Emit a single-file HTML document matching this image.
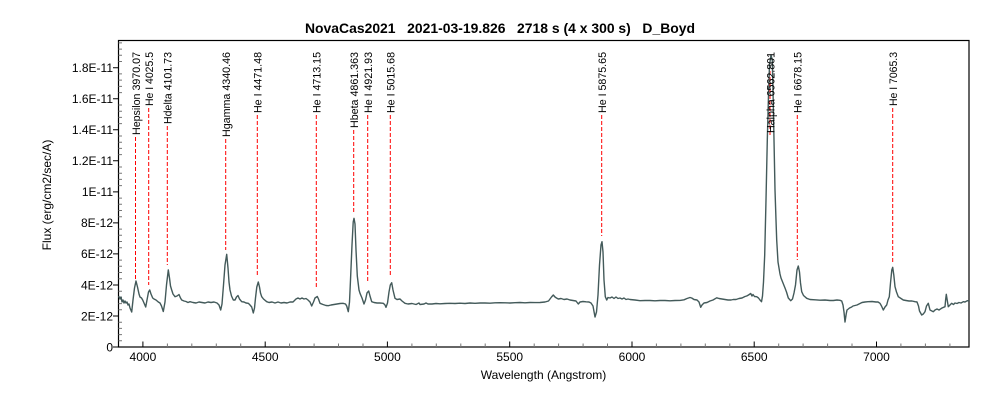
<!DOCTYPE html>
<html>
<head>
<meta charset="utf-8">
<style>
html,body{margin:0;padding:0;background:#fff;}
svg{display:block;}
text{font-family:"Liberation Sans",Arial,sans-serif;fill:#000;}
</style>
</head>
<body>
<svg width="1000" height="400" viewBox="0 0 1000 400" xmlns="http://www.w3.org/2000/svg">
<rect x="0" y="0" width="1000" height="400" fill="#fff"/>

<!-- Title -->
<text x="305" y="33" font-size="14" font-weight="bold" textLength="390" lengthAdjust="spacingAndGlyphs" xml:space="preserve">NovaCas2021   2021-03-19.826   2718 s (4 x 300 s)   D_Boyd</text>

<!-- Plot frame -->
<rect x="118.5" y="40.5" width="850.5" height="306.5" fill="none" stroke="#000" stroke-width="1.2"/>

<!-- Y major ticks (outside) -->
<path d="M113 347H118.5M113 316H118.5M113 285H118.5M113 253.9H118.5M113 222.9H118.5M113 191.9H118.5M113 160.8H118.5M113 129.8H118.5M113 98.8H118.5M113 67.7H118.5" stroke="#000" stroke-width="1"/>
<!-- Y minor ticks (inside) -->
<path stroke="#777" stroke-width="1" d="M118.5 340.8H122M118.5 334.6H122M118.5 328.4H122M118.5 322.2H122M118.5 309.8H122M118.5 303.6H122M118.5 297.4H122M118.5 291.2H122M118.5 278.7H122M118.5 272.5H122M118.5 266.3H122M118.5 260.1H122M118.5 247.7H122M118.5 241.5H122M118.5 235.3H122M118.5 229.1H122M118.5 216.7H122M118.5 210.5H122M118.5 204.3H122M118.5 198.1H122M118.5 185.6H122M118.5 179.4H122M118.5 173.2H122M118.5 167H122M118.5 154.6H122M118.5 148.4H122M118.5 142.2H122M118.5 136H122M118.5 123.6H122M118.5 117.4H122M118.5 111.2H122M118.5 105H122M118.5 92.6H122M118.5 86.4H122M118.5 80.1H122M118.5 73.9H122M118.5 61.5H122M118.5 55.3H122M118.5 49.1H122M118.5 42.9H122"/>

<!-- X major ticks (inside) -->
<path stroke="#000" stroke-width="1" d="M142.9 347V341.5M265.2 347V341.5M387.4 347V341.5M509.7 347V341.5M632 347V341.5M754.2 347V341.5M876.5 347V341.5"/>
<!-- X minor ticks -->
<path stroke="#777" stroke-width="1" d="M167.4 347V343.5M191.8 347V343.5M216.3 347V343.5M240.7 347V343.5M289.6 347V343.5M314.1 347V343.5M338.5 347V343.5M363 347V343.5M411.9 347V343.5M436.3 347V343.5M460.8 347V343.5M485.2 347V343.5M534.2 347V343.5M558.6 347V343.5M583.1 347V343.5M607.5 347V343.5M656.4 347V343.5M680.9 347V343.5M705.3 347V343.5M729.8 347V343.5M778.7 347V343.5M803.1 347V343.5M827.6 347V343.5M852 347V343.5M900.9 347V343.5M925.4 347V343.5M949.9 347V343.5"/>

<!-- Y tick labels -->
<g font-size="12" text-anchor="end">
<text x="113" y="351.5">0</text>
<text x="113" y="320.5">2E-12</text>
<text x="113" y="289.3">4E-12</text>
<text x="113" y="258.2">6E-12</text>
<text x="113" y="227.2">8E-12</text>
<text x="113" y="196.2">1E-11</text>
<text x="113" y="165.1">1.2E-11</text>
<text x="113" y="134.1">1.4E-11</text>
<text x="113" y="103.1">1.6E-11</text>
<text x="113" y="72">1.8E-11</text>
</g>

<!-- X tick labels -->
<g font-size="12" text-anchor="middle">
<text x="142.9" y="361">4000</text>
<text x="265.2" y="361">4500</text>
<text x="387.4" y="361">5000</text>
<text x="509.7" y="361">5500</text>
<text x="632" y="361">6000</text>
<text x="754.2" y="361">6500</text>
<text x="876.5" y="361">7000</text>
</g>

<!-- Axis titles -->
<text x="543.5" y="379" font-size="12" text-anchor="middle">Wavelength (Angstrom)</text>
<text x="51" y="195" font-size="12" text-anchor="middle" transform="rotate(-90 51 195)">Flux (erg/cm2/sec/A)</text>

<!-- Red dashed line markers -->
<g stroke="#f00" stroke-width="1" stroke-dasharray="4,2" fill="none">
<path d="M135.5 137V280"/>
<path d="M148.7 108V285"/>
<path d="M167.3 126V265"/>
<path d="M225.7 139V250"/>
<path d="M257.3 115V275"/>
<path d="M316.3 115V288"/>
<path d="M353.7 130V213"/>
<path d="M367.7 115V283"/>
<path d="M390.3 115V276"/>
<path d="M601.7 115V236"/>
<path d="M770 135V70"/>
<path d="M797.3 115V260"/>
<path d="M892.7 108V262"/>
</g>

<!-- Spectrum -->
<polyline fill="none" stroke="#435a5a" stroke-width="1.4" stroke-linejoin="round" points="
118.7,296 120,299 121,297 122,302 123,300 124,303 125,301 126,303 127,302 128,305 129,304 130,308 131.7,312 133,300 134.5,288 136,281 137.5,287 139,294 140,297 141.5,298 142.7,300 144,303 145.7,307 147,300 148.5,292 149.7,290 151,294 152.7,298 154,299 156,300 158.3,302 160,303 161.5,306 163.3,311.5 165,302 166.5,285 168.3,270 169.5,278 170.5,286 171.7,290 173,294 175,296.7 177,296 179,294.5 180.5,298 181.7,300 184,301 186,301.5 188,302.5 190,301.7 193,302.5 196,303 199,302 202,302.5 205,303 208,302 211,302.5 214,302 217,303 219,305 220.7,310 222,304 223.5,285 225,265 226.7,254.3 228,268 229,282 230,290 231.5,296 233.3,300 235,300 236.5,297 238,295.5 239.5,299 241.7,301.7 244,302 246,303 248.3,303.3 250,305 251.7,307 253.3,313 254.5,308 255.5,298 256.8,287 258.3,282 259.5,287 260.5,293 261.7,296.7 263.5,299 266.7,301.7 269,302.5 272,302 275,303 278,302 281,303 284,302.5 287,303 290,302 293,302 296,299 298,298 300,299 302,298 304,299 306,298.5 308,300 310,302 311.7,306 313.5,302 315,298 317.3,296.5 318.5,299 320,303.3 323,304.5 326,305.5 328.3,305.7 331,305 334,304.5 337,304 340,303.5 343,303.3 345.5,304 346.7,306 348.3,311.7 349.5,302 350.5,280 352,245 353.2,222 354,218.3 355,224 356,250 357.3,276 359,290 360,293.3 362,298 364,304 365.5,300 367,293 368.7,291 370,296 371.7,301.7 374,302.5 377,303 380,303 383.3,303.3 385,305 386,307.3 387.5,303 389,292 390.3,285 391.7,282.7 393,290 395,298.3 397,299.5 400,299 402,301 405,303.3 408,304 412,303.5 416,304.5 419,303 420,304.5 424,304 426,303 428,304 432,304 436,303.5 440,303.8 445,303.5 450,303.3 455,303.5 460,303.2 465,303.5 470,303 475,303.3 480,303 485,303 490,303.2 495,302.8 500,302.7 505,302.8 510,303 515,302.7 520,302.5 525,302.8 530,302.5 535,302.6 540,302.5 545,302 548.5,301 550,299 551.5,297 553.3,295 555,297 556.5,298 558.3,299 561,298.5 564,299.5 567,299 570,300 573,300.5 576,301 578.3,304 580,302 583,301.5 586,301.8 589,302 591,303 593,306 595,317 596.5,312 598,295 599.5,265 601,245 602,241.7 603,252 604,280 605.3,296.7 606.7,300 608,297.5 610,298 612,297 614,298.5 616,297 618,298.5 620,298 622,299 624,298 626,299.5 628,299 630,299.5 635,300 640,300.7 645,300.5 650,300.5 655,300.8 660,300.5 665,300.5 670,300.8 675,300.5 680,300.4 684,299.8 687,298.5 690,297.5 691.7,298 694,299.5 697,300 699,302 700.7,307.3 702,305 704,303 707,302.5 710,301 713,300 716.7,297.8 719,298.5 722,299 725,299.5 728,300 731,300 733.3,299.5 736,299.5 739,298.5 742,298 745,296.5 746.7,296 748.5,295 750.7,293.5 752,296 753,294.5 754.5,296.5 756.7,296.7 758.5,298 760,300 761.5,301.7 762.5,296 763.5,282 764.7,255 766,200 767.3,140 768.5,95 769.5,65 771,55 772.3,60 773.2,100 774,140 775,190 776,220 776.7,240 778,262 780,274 781,278 783,283 785,288 786.5,292 788.3,298 790.7,300.7 792.5,299 794,293 795.5,285 797,270 798.3,266 799.5,272 800.5,283 801.7,291.7 803.5,295.5 806.7,298.3 810,299.5 815,299.8 820,300.2 825,300 830,300.5 833.3,300.5 837,300 840,300.3 841.7,301 843,305 844,312 845,322 846.2,314 847,310 848.3,309 849.5,308 851.7,307 853,306 855,305.5 857,305 860,303.5 862,302.5 865,302 868,301.7 872,301.5 876,302 878,302 880,303.3 881.5,306 883.3,310 885,307 886.7,305 888,300 889.3,296.7 890.5,283 891.8,270 892.7,267.3 893.8,275 895,286.7 896.5,292 898.3,296.7 901,298.5 903.3,300 906,300.5 909,301 912,301 915,301.7 917,302 918.5,306 919.5,311 921.7,315 923.3,314 925,311.7 926.5,306 928.3,303.3 930,310 933.3,311.7 935,310 937,309 939,310 940,309.3 942,308 945,306.7 945.6,300 946.3,294.3 947.2,300 948.3,306.7 950,305 951.7,303.3 953.5,304.5 955,303 957,303.5 959,302.5 961,303 963.3,301.7 965,302 967.3,300.7 969,301"/>

<!-- Line labels (rotated) -->
<g font-size="11" text-anchor="end">
<text x="140" y="52" transform="rotate(-90 140 52)" textLength="83" lengthAdjust="spacingAndGlyphs">Hepsilon 3970.07</text>
<text x="153" y="52" transform="rotate(-90 153 52)" textLength="54" lengthAdjust="spacingAndGlyphs">He I 4025.5</text>
<text x="171.6" y="52" transform="rotate(-90 171.6 52)" textLength="72" lengthAdjust="spacingAndGlyphs">Hdelta 4101.73</text>
<text x="230" y="52" transform="rotate(-90 230 52)" textLength="85" lengthAdjust="spacingAndGlyphs">Hgamma 4340.46</text>
<text x="261.6" y="52" transform="rotate(-90 261.6 52)" textLength="61" lengthAdjust="spacingAndGlyphs">He I 4471.48</text>
<text x="320.6" y="52" transform="rotate(-90 320.6 52)" textLength="61" lengthAdjust="spacingAndGlyphs">He I 4713.15</text>
<text x="358" y="52" transform="rotate(-90 358 52)" textLength="76" lengthAdjust="spacingAndGlyphs">Hbeta 4861.363</text>
<text x="372" y="52" transform="rotate(-90 372 52)" textLength="61" lengthAdjust="spacingAndGlyphs">He I 4921.93</text>
<text x="394.6" y="52" transform="rotate(-90 394.6 52)" textLength="61" lengthAdjust="spacingAndGlyphs">He I 5015.68</text>
<text x="606" y="52" transform="rotate(-90 606 52)" textLength="61" lengthAdjust="spacingAndGlyphs">He I 5875.65</text>
<text x="774.3" y="52" transform="rotate(-90 774.3 52)" textLength="81" lengthAdjust="spacingAndGlyphs">Halpha 6562.801</text>
<text x="801.6" y="52" transform="rotate(-90 801.6 52)" textLength="61" lengthAdjust="spacingAndGlyphs">He I 6678.15</text>
<text x="897" y="52" transform="rotate(-90 897 52)" textLength="54" lengthAdjust="spacingAndGlyphs">He I 7065.3</text>
</g>
</svg>
</body>
</html>
